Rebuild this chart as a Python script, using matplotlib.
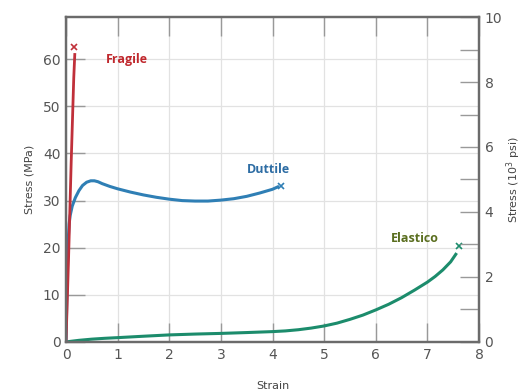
import numpy as np
import matplotlib
matplotlib.use("Agg")
import matplotlib.pyplot as plt
from matplotlib.ticker import MultipleLocator

# curves (strain, stress MPa)
fragile_x = [0.0, 0.05, 0.10, 0.15, 0.17]
fragile_y = [0.0, 18.0, 38.0, 56.0, 61.0]
fragile_end = (0.15, 62.5)

duttile_x = [0.0, 0.02, 0.04, 0.06, 0.08, 0.12, 0.18, 0.25, 0.32, 0.4, 0.48, 0.55, 0.62, 0.7, 0.85,
             1.0, 1.25, 1.5, 1.75, 2.0, 2.25, 2.5, 2.75, 3.0, 3.25, 3.5, 3.75, 4.0, 4.1]
duttile_y = [0.0, 12.0, 21.0, 25.0, 26.8, 28.8, 30.6, 32.1, 33.2, 33.9, 34.2, 34.2, 34.0, 33.6, 33.0,
             32.5, 31.8, 31.2, 30.7, 30.3, 30.0, 29.9, 29.9, 30.1, 30.4, 30.9, 31.6, 32.4, 32.9]
duttile_end = (4.17, 33.1)

elastico_x = [0.0, 0.1, 0.25, 0.5, 0.75, 1.0, 1.5, 2.0, 2.5, 3.0, 3.5, 4.0, 4.25, 4.5, 4.75, 5.0, 5.25,
              5.5, 5.75, 6.0, 6.25, 6.5, 6.75, 7.0, 7.15, 7.3, 7.45, 7.55]
elastico_y = [0.0, 0.15, 0.35, 0.6, 0.78, 0.92, 1.22, 1.5, 1.68, 1.82, 2.0, 2.2, 2.35, 2.6, 2.95, 3.4, 4.0,
              4.8, 5.7, 6.8, 8.0, 9.4, 11.0, 12.7, 13.9, 15.3, 17.0, 18.6]
elastico_end = (7.62, 20.3)

red = "#c0303a"
blue = "#2f7fb5"
green = "#1c8c6c"
grey = "#6b6b6b"

fig = plt.figure(figsize=(5.23, 3.92), dpi=100)
ax = fig.add_axes([0.1262, 0.1276, 0.7897, 0.829])

ax.plot(elastico_x, elastico_y, color=green, lw=2.2)
ax.plot(duttile_x, duttile_y, color=blue, lw=2.2)
ax.plot(fragile_x, fragile_y, color=red, lw=2.0)
for (px, py), c in [(fragile_end, red), (duttile_end, blue), (elastico_end, green)]:
    ax.plot(px, py, marker="x", color=c, ms=4, mew=1.2)

ax.text(0.78, 60, "Fragile", color="#c0282d", fontsize=9, fontweight="bold", va="center", family="Open Sans")
ax.text(3.5, 36.5, "Duttile", color="#2e6da4", fontsize=9, fontweight="bold", va="center", family="Open Sans")
ax.text(6.3, 22.0, "Elastico", color="#5a6e1f", fontsize=9, fontweight="bold", va="center", family="Open Sans")

ax.set_xlim(0, 8)
ax.set_ylim(0, 68.95)
ax.xaxis.set_major_locator(MultipleLocator(1))
ax.yaxis.set_major_locator(MultipleLocator(10))
ax.grid(True, color="#e2e2e2", lw=0.9)
ax.set_axisbelow(True)
ax.tick_params(direction="in", length=14, width=1.0, color="#999999", labelcolor="#555555",
               labelsize=10, top=True, right=False, pad=4)
ax.set_xlabel("Strain", fontsize=8, color="#444444", labelpad=14)
ax.set_ylabel("Stress (MPa)", fontsize=8, color="#444444", labelpad=6)
for s in ax.spines.values():
    s.set_color(grey)
    s.set_linewidth(1.6)

ax2 = ax.twinx()
ax2.set_ylim(0, 10)
ax2.yaxis.set_major_locator(MultipleLocator(2))
ax2.yaxis.set_minor_locator(MultipleLocator(1))
ax2.tick_params(which="both", direction="in", length=14, width=1.0, color="#999999",
                labelcolor="#555555", labelsize=10, pad=4)
ax2.set_ylabel("Stress (10$^3$ psi)", fontsize=8, color="#444444", rotation=90)
ax2.yaxis.set_label_coords(1.062, 0.5)
for s in ax2.spines.values():
    s.set_color(grey)
    s.set_linewidth(1.6)

fig.savefig("out.png", dpi=100)
